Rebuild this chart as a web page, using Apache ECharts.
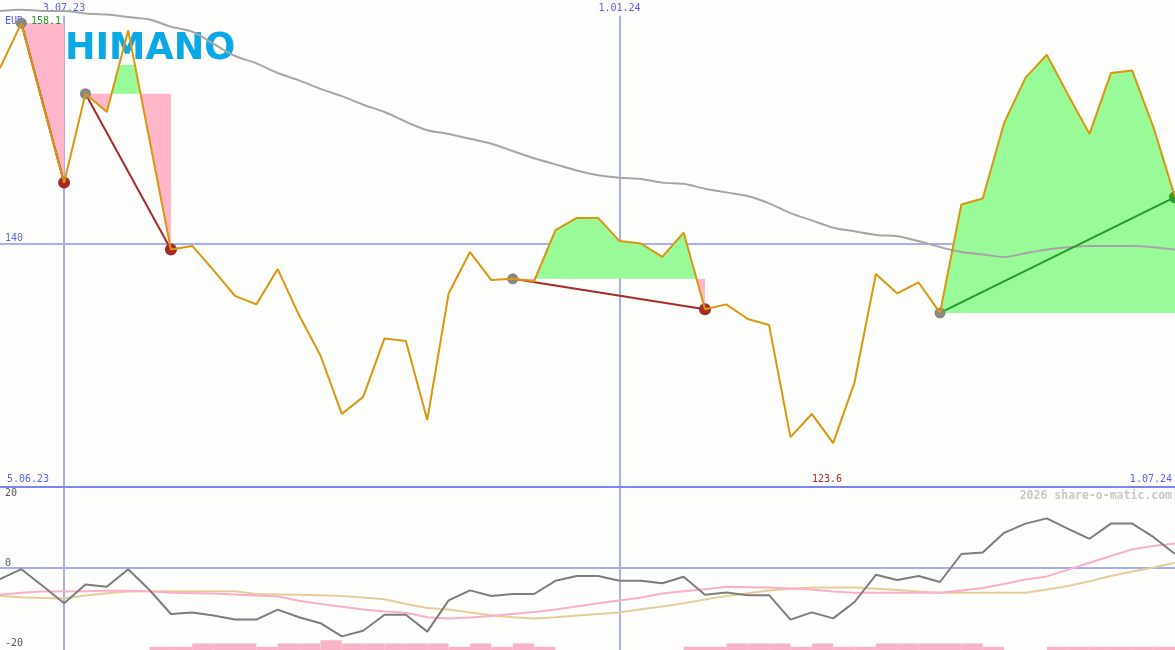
<!DOCTYPE html>
<html><head><meta charset="utf-8">
<script src="https://cdn.jsdelivr.net/npm/echarts@6/dist/echarts.min.js"></script>
<style>html,body{margin:0;padding:0;background:#fdfefb;}#c{width:1175px;height:650px;}</style>
</head><body><div id="c"></div>
<script>
// ---- data ----
const weeks = ['12.06.23','19.06.23','26.06.23','3.07.23','10.07.23','17.07.23','24.07.23','31.07.23','7.08.23','14.08.23',
  '21.08.23','28.08.23','4.09.23','11.09.23','18.09.23','25.09.23','2.10.23','9.10.23','16.10.23','23.10.23',
  '30.10.23','6.11.23','13.11.23','20.11.23','27.11.23','4.12.23','11.12.23','18.12.23','25.12.23','1.01.24',
  '8.01.24','15.01.24','22.01.24','29.01.24','5.02.24','12.02.24','19.02.24','26.02.24','4.03.24','11.03.24',
  '18.03.24','25.03.24','1.04.24','8.04.24','15.04.24','22.04.24','29.04.24','6.05.24','13.05.24','20.05.24',
  '27.05.24','3.06.24','10.06.24','17.06.24','24.06.24','1.07.24'];
const price = [154.4,158.1,151.5,145.0,152.3,150.8,157.5,148.5,139.5,139.8,
  137.8,135.7,135.0,137.9,134.1,130.8,126.0,127.4,132.2,132.0,
  125.5,135.9,139.3,137.0,137.1,136.9,141.1,142.1,142.1,140.2,
  140.0,138.9,140.9,134.6,135.0,133.8,133.3,124.1,126.0,123.6,
  128.6,137.5,135.9,136.8,134.3,143.2,143.7,149.9,153.6,155.5,
  152.2,149.0,154.0,154.2,149.5,143.8];
const movingAvg = [159.1,159.2,159.1,159.1,158.9,158.8,158.6,158.4,157.8,157.4,
  156.4,155.4,154.8,154.0,153.4,152.7,152.1,151.4,150.8,150.0,
  149.3,149.0,148.6,148.2,147.6,147.0,146.5,146.0,145.6,145.4,
  145.3,145.0,144.9,144.5,144.2,143.9,143.3,142.5,141.9,141.3,
  141.0,140.7,140.6,140.2,139.7,139.3,139.1,138.9,139.2,139.5,
  139.7,139.8,139.8,139.8,139.7,139.5];
const oscMain = [-2.8,-0.3,-4.5,-8.8,-4.1,-4.7,-0.3,-5.5,-11.5,-11.1,
  -11.9,-12.9,-12.9,-10.4,-12.3,-13.8,-17.1,-15.7,-11.7,-11.7,
  -15.9,-8.1,-5.6,-7.0,-6.5,-6.5,-3.2,-2.0,-2.0,-3.2,
  -3.2,-3.8,-2.2,-6.7,-6.1,-6.8,-6.8,-12.9,-11.1,-12.6,
  -8.5,-1.7,-3.0,-2.0,-3.5,3.5,3.9,8.8,11.1,12.4,
  9.8,7.3,11.1,11.1,7.7,3.5];
const oscSignal = [-6.7,-6.2,-5.9,-5.9,-5.8,-5.7,-5.7,-5.8,-6.2,-6.3,
  -6.4,-6.6,-6.9,-7.1,-8.2,-9.0,-9.7,-10.4,-10.9,-11.2,
  -12.3,-12.6,-12.4,-12.0,-11.5,-11.0,-10.4,-9.6,-8.8,-8.1,
  -7.4,-6.4,-5.8,-5.3,-4.7,-4.8,-4.9,-5.1,-5.4,-5.9,
  -6.2,-6.2,-6.2,-6.2,-6.2,-5.6,-5.0,-4.0,-2.9,-2.1,
  -0.4,1.3,3.0,4.7,5.5,6.1];
const oscSlow = [-7.0,-7.3,-7.5,-7.6,-6.9,-6.3,-5.9,-5.8,-5.8,-5.8,
  -5.8,-5.8,-6.5,-6.6,-6.7,-6.8,-7.0,-7.4,-7.8,-9.0,
  -10.0,-10.4,-11.1,-11.8,-12.3,-12.6,-12.3,-11.9,-11.5,-11.1,
  -10.3,-9.6,-8.8,-7.9,-7.0,-6.3,-5.6,-5.2,-4.9,-4.9,
  -4.9,-5.2,-5.5,-5.9,-6.2,-6.2,-6.2,-6.2,-6.2,-5.4,
  -4.5,-3.3,-2.0,-0.9,0.1,1.3];
const histBars = [0,0,0,0,0,0,0,1,1,2, 2,2,1,2,2,3,2,2,2,2, 2,1,2,1,2,1,0,0,0,0,
  0,0,1,1,2,2,2,1,2,1, 1,2,2,2,2,2,1,0,0,1, 1,1,1,1,1,0];
const signals = [[1,3],[4,8],[24,33],[44,55]];   // [start week, end week]
const topDateTicks = [3, 29];
const priceTicks = [140];
const oscTicksLow = [0, -20];
const oscTicksHigh = [20];
const currency = 'EUR';
const rangeLabels = ['5.06.23', '1.07.24'];
const watermark = '2026 share-o-matic.com';
const logoText = 'HIMANO';

// ---- styling ----
const bg = '#fdfefb';
const blue = '#5a5fee';
const gridBlue = '#a6aef2';
const mono = '"DejaVu Sans Mono", monospace';
const green = '#98fb98', pink = '#ffb6c8';
const xy = arr => arr.map((v, i) => [i, v]);
const maxP = Math.max(...price), minP = Math.min(...price);
const minIdx = price.indexOf(minP);
const vLineTop = 158.7;

function fillPieces(s, e) {
  const ref = price[s];
  const pts = [];
  for (let i = s; i <= e; i++) {
    if (i > s) {
      const a = price[i - 1] - ref, b = price[i] - ref;
      if (a * b < 0) pts.push([i - 1 + a / (a - b), ref]);
    }
    pts.push([i, price[i]]);
  }
  const up = [[s, ref]].concat(pts.map(p => [p[0], Math.max(p[1], ref)]), [[e, ref]]);
  const dn = [[s, ref]].concat(pts.map(p => [p[0], Math.min(p[1], ref)]), [[e, ref]]);
  return { up, dn };
}

const chart = echarts.init(document.getElementById('c'));
const series = [];

// grid lines (main)
series.push({
  type: 'line', xAxisIndex: 0, yAxisIndex: 0, data: xy(price), symbol: 'none',
  lineStyle: { opacity: 0 }, silent: true, z: 0,
  markLine: {
    silent: true, z: 0, symbol: ['none', 'none'], label: { show: false }, animation: false,
    lineStyle: { color: gridBlue, width: 2, type: 'solid' },
    data: priceTicks.map(v => ({ yAxis: v })).concat(
      topDateTicks.map(t => [{ xAxis: t, yAxis: vLineTop }, { xAxis: t, yAxis: 120 }]))
  }
});
// grid lines (osc)
series.push({
  type: 'line', xAxisIndex: 1, yAxisIndex: 1, data: xy(oscMain), symbol: 'none',
  lineStyle: { opacity: 0 }, silent: true, z: 0,
  markLine: {
    silent: true, z: 0, symbol: ['none', 'none'], label: { show: false }, animation: false,
    lineStyle: { color: gridBlue, width: 2, type: 'solid' },
    data: [{ yAxis: 0 }].concat(topDateTicks.map(t => ({ xAxis: t })))
  }
});
// fills
series.push({
  type: 'custom', xAxisIndex: 0, yAxisIndex: 0, z: 1, silent: true,
  data: signals.map(([s, e]) => [s, price[s], e]),
  renderItem: (params, api) => {
    const [s, e] = signals[params.dataIndex];
    const { up, dn } = fillPieces(s, e);
    return {
      type: 'group', children: [
        { type: 'polygon', shape: { points: dn.map(p => api.coord(p)) }, style: { fill: pink } },
        { type: 'polygon', shape: { points: up.map(p => api.coord(p)) }, style: { fill: green } }
      ]
    };
  }
});
// moving average
series.push({
  type: 'line', xAxisIndex: 0, yAxisIndex: 0, data: xy(movingAvg), symbol: 'none', smooth: 0.3,
  lineStyle: { color: '#a6a6a6', width: 2 }, z: 3
});
// trend lines
signals.forEach(([s, e]) => {
  series.push({
    type: 'line', xAxisIndex: 0, yAxisIndex: 0, symbol: 'none', z: 4,
    data: [[s, price[s]], [e, price[e]]],
    lineStyle: { color: price[e] < price[s] ? '#a52a2a' : '#2a9a2a', width: 2 }
  });
});
// markers
series.push({
  type: 'scatter', xAxisIndex: 0, yAxisIndex: 0, z: 5, symbolSize: 11,
  itemStyle: { color: '#888888', opacity: 1 },
  data: signals.map(([s]) => [s, price[s]])
});
series.push({
  type: 'scatter', xAxisIndex: 0, yAxisIndex: 0, z: 5, symbolSize: 12,
  data: signals.map(([s, e]) => ({ value: [e, price[e]], itemStyle: { color: price[e] < price[s] ? '#a52a2a' : '#2a9a2a', opacity: 1 } }))
});
// price
series.push({
  type: 'line', xAxisIndex: 0, yAxisIndex: 0, data: xy(price), symbol: 'none',
  lineStyle: { color: '#d9960e', width: 2 }, z: 6
});
// osc bars
series.push({
  type: 'custom', xAxisIndex: 1, yAxisIndex: 3, z: 1, silent: true,
  data: xy(histBars),
  renderItem: (params, api) => {
    const i = api.value(0), h = api.value(1);
    if (!h) return null;
    const p0 = api.coord([i, 0]), p1 = api.coord([i + 1, h]);
    return { type: 'rect', shape: { x: p0[0], y: p1[1], width: p1[0] - p0[0], height: p0[1] - p1[1] }, style: { fill: '#f9b4c8' } };
  }
});
series.push({ type: 'line', xAxisIndex: 1, yAxisIndex: 1, data: xy(oscSlow), symbol: 'none', lineStyle: { color: '#e4cd9c', width: 2 }, z: 3 });
series.push({ type: 'line', xAxisIndex: 1, yAxisIndex: 1, data: xy(oscSignal), symbol: 'none', lineStyle: { color: '#f9b0c6', width: 2 }, z: 3 });
series.push({ type: 'line', xAxisIndex: 1, yAxisIndex: 1, data: xy(oscMain), symbol: 'none', lineStyle: { color: '#7d7d7d', width: 2 }, z: 4 });

const lbl = (extra) => Object.assign({ fontFamily: mono, fontSize: 10 }, extra);

const option = {
  animation: false,
  backgroundColor: bg,
  grid: [{ left: 0, right: 0, top: 0, height: 487 }, { left: 0, right: 0, top: 487, height: 163 }],
  xAxis: [
    { gridIndex: 0, type: 'value', min: 0, max: weeks.length - 1, position: 'top',
      axisLine: { show: false }, axisTick: { show: false }, splitLine: { show: false },
      axisLabel: lbl({ inside: true, margin: 3, customValues: topDateTicks, formatter: v => weeks[v], color: blue, verticalAlign: 'top' }) },
    { gridIndex: 1, type: 'value', min: 0, max: weeks.length - 1, position: 'top',
      axisLine: { show: true, onZero: false, lineStyle: { color: '#7b86ea', width: 2 } },
      axisTick: { show: false }, axisLabel: { show: false }, splitLine: { show: false } }
  ],
  yAxis: [
    { gridIndex: 0, type: 'value', min: 120, max: 160, position: 'left',
      axisLine: { show: false }, axisTick: { show: false }, splitLine: { show: false },
      axisLabel: lbl({ inside: true, margin: 5, customValues: priceTicks, color: blue, verticalAlign: 'bottom' }) },
    { gridIndex: 1, type: 'value', min: -20.5, max: 20.25, position: 'left', offset: 0,
      axisLine: { show: false }, axisTick: { show: false }, splitLine: { show: false },
      axisLabel: lbl({ inside: true, margin: 5, customValues: oscTicksLow, color: '#555555', verticalAlign: 'bottom' }) },
    { gridIndex: 1, type: 'value', min: -20.5, max: 20.25, position: 'left', offset: 0,
      axisLine: { show: false }, axisTick: { show: false }, splitLine: { show: false },
      axisLabel: lbl({ inside: true, margin: 5, customValues: oscTicksHigh, color: '#555555', verticalAlign: 'top' }) },
    { gridIndex: 1, type: 'value', min: 0, max: 50, show: false }
  ],
  graphic: { elements: [
    { type: 'rect', z: 2, shape: { x: 65, y: 33, width: 171, height: 32 }, style: { fill: bg } },
    { type: 'text', z: 2, x: 65, y: 49.5, scaleX: 0.96,
      style: { text: logoText, font: 'bold 38px "DejaVu Sans"', fill: '#0aa9e6', verticalAlign: 'middle', align: 'left' } },
    { type: 'text', z: 3, x: 5, y: 21, style: { text: currency, font: '10px ' + mono, fill: blue, verticalAlign: 'middle' } },
    { type: 'text', z: 3, x: 31, y: 21, style: { text: maxP.toFixed(1), font: '10px ' + mono, fill: '#229922', verticalAlign: 'middle' } },
    { type: 'text', z: 3, x: 7, y: 479, style: { text: rangeLabels[0], font: '10px ' + mono, fill: blue, verticalAlign: 'middle' } },
    { type: 'text', z: 3, x: 827, y: 479, style: { text: minP.toFixed(1), font: '10px ' + mono, fill: '#a52a2a', verticalAlign: 'middle', align: 'center' } },
    { type: 'text', z: 3, x: 1172, y: 479, style: { text: rangeLabels[1], font: '10px ' + mono, fill: blue, verticalAlign: 'middle', align: 'right' } },
    { type: 'text', z: 3, x: 1172, y: 496, style: { text: watermark, font: 'bold 11.5px ' + mono, fill: '#c8c8c8', verticalAlign: 'middle', align: 'right' } }
  ] },
  series
};
chart.setOption(option);
</script></body></html>
